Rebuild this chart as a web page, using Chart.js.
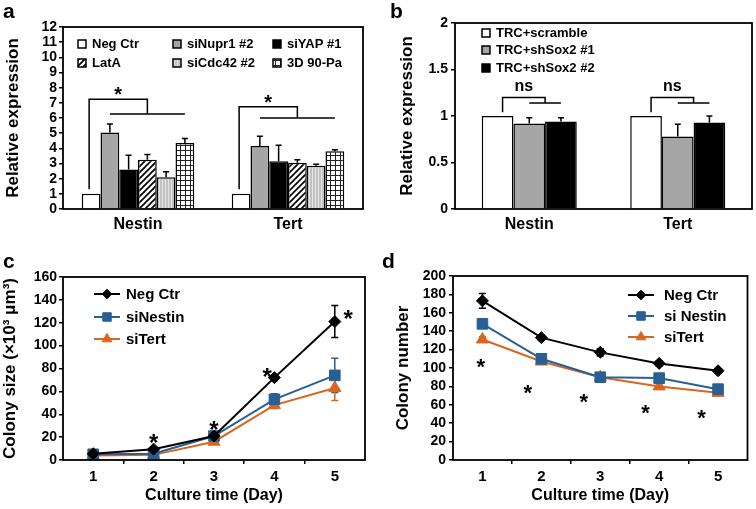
<!DOCTYPE html>
<html>
<head>
<meta charset="utf-8">
<script src="https://cdn.jsdelivr.net/npm/chart.js@4.4.0/dist/chart.umd.min.js"></script>
<style>
  body { margin: 0; background: #fff; }
  #fig { position: relative; width: 756px; height: 509px; overflow: hidden; }
  #fig canvas { position: absolute; }
  .tag { position: absolute; font: bold 21px "Liberation Sans", Arial, sans-serif; line-height: 1; }
</style>
</head>
<body>
<div id="fig">
  <canvas id="chartA" width="378" height="250" style="left:0;top:0"></canvas>
  <canvas id="chartB" width="378" height="250" style="left:378px;top:0"></canvas>
  <canvas id="chartC" width="378" height="259" style="left:0;top:250px"></canvas>
  <canvas id="chartD" width="378" height="259" style="left:378px;top:250px"></canvas>
  <div class="tag" style="left:3px;top:0px">a</div>
  <div class="tag" style="left:390px;top:0px">b</div>
  <div class="tag" style="left:3px;top:250px">c</div>
  <div class="tag" style="left:382px;top:250px">d</div>
</div>
<script>
// ---- data ----
const genes = ['Nestin', 'Tert'];

// panel a
const seriesA = ['Neg Ctr', 'siNupr1 #2', 'siYAP #1', 'LatA', 'siCdc42 #2', '3D 90-Pa'];
const negCtrA = [1, 1];
const siNupr1A = [5.05, 4.15];
const siYapA = [2.6, 3.15];
const latA = [3.25, 3.05];
const siCdc42A = [2.1, 2.85];
const pa90A = [4.35, 3.8];
const negCtrAErr = [0, 0];
const siNupr1AErr = [0.55, 0.65];
const siYapAErr = [0.95, 1.05];
const latAErr = [0.35, 0.2];
const siCdc42AErr = [0.35, 0.1];
const pa90AErr = [0.3, 0.1];

// panel b
const seriesB = ['TRC+scramble', 'TRC+shSox2 #1', 'TRC+shSox2 #2'];
const scrambleB = [1, 1];
const shSox1B = [0.92, 0.78];
const shSox2B = [0.94, 0.93];
const scrambleBErr = [0, 0];
const shSox1BErr = [0.06, 0.13];
const shSox2BErr = [0.04, 0.07];

// panels c, d
const days = [1, 2, 3, 4, 5];
const negCtrC = [5.5, 9.5, 21, 72, 121];
const siNestinC = [5, 5.5, 21, 53, 74];
const siTertC = [4, 4.5, 16, 48, 63];
const negCtrCErr = [1, 1, 1.5, 2.5, 14];
const siNestinCErr = [1, 1, 2, 5, 15];
const siTertCErr = [1, 1, 2, 3, 11];

const negCtrD = [173, 133, 117, 105, 97];
const siNestinD = [148, 110, 90, 89, 77];
const siTertD = [131, 107, 90, 80, 73];
const negCtrDErr = [8, 3, 4, 3, 2];
const siNestinDErr = [3, 3, 3, 3, 3];
const siTertDErr = [3, 3, 3, 3, 3];

// significance marks (data space)
const starCX = [2, 3, 3.88, 5.22];
const starCY = [20, 31.5, 78, 128.5];
const starDX = [0.97, 1.77, 2.72, 3.77, 4.72];
const starDY = [107, 79, 69, 57, 52];

// ---- style helpers ----
const FONT = '"Liberation Sans", Arial, sans-serif';
Chart.defaults.font.family = FONT;
Chart.defaults.font.weight = 'bold';
Chart.defaults.color = '#000';

const BLUE = '#285f94';
const ORANGE = '#d8661f';

function tile(w, h, paint) {
  const c = document.createElement('canvas');
  c.width = w; c.height = h;
  const g = c.getContext('2d');
  paint(g);
  return g.createPattern(c, 'repeat');
}
const diagFill = tile(6, 6, g => {
  g.fillStyle = '#fff'; g.fillRect(0, 0, 6, 6);
  g.strokeStyle = '#000'; g.lineWidth = 1.7;
  g.beginPath();
  g.moveTo(-1, 7); g.lineTo(7, -1);
  g.moveTo(-1, 1); g.lineTo(1, -1);
  g.moveTo(5, 7); g.lineTo(7, 5);
  g.stroke();
});
const stripeFill = tile(3, 1, g => {
  g.fillStyle = '#c2c2c2'; g.fillRect(0, 0, 3, 1);
  g.fillStyle = '#e4e4e4'; g.fillRect(0, 0, 1, 1);
});
const gridFill = tile(5, 5, g => {
  g.fillStyle = '#fff'; g.fillRect(0, 0, 5, 5);
  g.fillStyle = '#222'; g.fillRect(0, 0, 5, 1); g.fillRect(0, 0, 1, 5);
});

// ---- plugins ----
const framePlugin = {
  id: 'frame',
  afterDatasetsDraw(chart) {
    const { ctx, chartArea: a } = chart;
    ctx.save();
    ctx.lineWidth = 1.8;
    ctx.strokeStyle = '#000';
    ctx.strokeRect(a.left, a.top, a.right - a.left, a.bottom - a.top);
    ctx.restore();
  }
};

const errorBarPlugin = {
  id: 'errorBars',
  beforeDatasetsDraw(chart, args, opts) {
    const { ctx } = chart;
    const ys = chart.scales.y;
    ctx.save();
    ctx.strokeStyle = '#000';
    ctx.lineWidth = 1.5;
    chart.data.datasets.forEach((ds, i) => {
      if (!ds.errs) return;
      const meta = chart.getDatasetMeta(i);
      meta.data.forEach((el, j) => {
        const e = ds.errs[j];
        if (!e) return;
        const v = typeof ds.data[j] === 'object' ? ds.data[j].y : ds.data[j];
        const top = ys.getPixelForValue(v + e);
        const bot = opts.both ? ys.getPixelForValue(v - e) : ys.getPixelForValue(v);
        ctx.strokeStyle = ds.errColor || '#000';
        ctx.beginPath();
        ctx.moveTo(el.x, bot); ctx.lineTo(el.x, top);
        ctx.moveTo(el.x - opts.cap / 2, top); ctx.lineTo(el.x + opts.cap / 2, top);
        if (opts.both) { ctx.moveTo(el.x - opts.cap / 2, bot); ctx.lineTo(el.x + opts.cap / 2, bot); }
        ctx.stroke();
      });
    });
    ctx.restore();
  }
};

const bracketPlugin = {
  id: 'brackets',
  afterDatasetsDraw(chart, args, o) {
    const { ctx } = chart;
    const ys = chart.scales.y;
    const n = chart.data.datasets.length;
    const m0 = chart.getDatasetMeta(0), m1 = chart.getDatasetMeta(1), mL = chart.getDatasetMeta(n - 1);
    ctx.save();
    ctx.strokeStyle = '#000';
    ctx.lineWidth = 1.5;
    ctx.fillStyle = '#000';
    ctx.font = 'bold ' + o.size + 'px ' + FONT;
    ctx.textAlign = 'center';
    ctx.textBaseline = 'alphabetic';
    o.top.forEach((t, j) => {
      const x0 = m0.data[j].x + o.dx, x1 = m1.data[j].x, x2 = mL.data[j].x;
      const xm = (x1 + x2) / 2;
      const yt = ys.getPixelForValue(t), yl = ys.getPixelForValue(o.low[j]);
      ctx.beginPath();
      ctx.moveTo(x0, ys.getPixelForValue(o.start[j]));
      ctx.lineTo(x0, yt); ctx.lineTo(xm, yt); ctx.lineTo(xm, yl);
      ctx.moveTo(x1, yl); ctx.lineTo(x2, yl);
      ctx.stroke();
      ctx.fillText(o.label, (x0 + xm) / 2, yt - o.gap);
    });
    ctx.restore();
  }
};

const boxLegendPlugin = {
  id: 'boxLegend',
  afterDraw(chart, args, o) {
    const { ctx, chartArea: a } = chart;
    ctx.save();
    ctx.font = 'bold ' + o.size + 'px ' + FONT;
    ctx.textBaseline = 'middle';
    ctx.textAlign = 'left';
    chart.data.datasets.forEach((ds, i) => {
      const x = a.left + o.colX[i % o.cols];
      const y = a.top + o.rowY[Math.floor(i / o.cols)];
      ctx.fillStyle = ds.backgroundColor;
      ctx.fillRect(x, y - o.box / 2, o.box, o.box);
      ctx.lineWidth = 1.5;
      ctx.strokeStyle = '#000';
      ctx.strokeRect(x, y - o.box / 2, o.box, o.box);
      ctx.fillStyle = '#000';
      ctx.fillText(ds.label, x + o.box + o.gap, y + 0.5);
    });
    ctx.restore();
  }
};

const lineLegendPlugin = {
  id: 'lineLegend',
  afterDraw(chart, args, o) {
    const { ctx, chartArea: a } = chart;
    ctx.save();
    ctx.font = 'bold ' + o.size + 'px ' + FONT;
    ctx.textBaseline = 'middle';
    ctx.textAlign = 'left';
    chart.data.datasets.forEach((ds, i) => {
      const x = a.left + o.x, y = a.top + o.rowY[i];
      ctx.strokeStyle = ds.borderColor;
      ctx.lineWidth = ds.borderWidth;
      ctx.beginPath(); ctx.moveTo(x, y); ctx.lineTo(x + o.len, y); ctx.stroke();
      ctx.fillStyle = ds.pointBackgroundColor;
      ctx.lineWidth = 1;
      Chart.helpers.drawPoint(ctx, { pointStyle: ds.pointStyle, radius: ds.pointRadius * 0.8, rotation: 0, borderWidth: 1 }, x + o.len / 2, y);
      ctx.fillStyle = '#000';
      ctx.fillText(ds.label, x + o.len + o.gap, y + 0.5);
    });
    ctx.restore();
  }
};

const starPlugin = {
  id: 'stars',
  afterDatasetsDraw(chart, args, o) {
    const { ctx } = chart;
    ctx.save();
    ctx.fillStyle = '#000';
    ctx.font = 'bold ' + o.size + 'px ' + FONT;
    ctx.textAlign = 'center';
    ctx.textBaseline = 'alphabetic';
    o.xs.forEach((x, i) => {
      const px = chart.scales.x.getPixelForValue(x);
      const py = chart.scales.y.getPixelForValue(o.ys[i]);
      ctx.fillText('*', px, py + o.size * 0.58);
    });
    ctx.restore();
  }
};

// ---- axis builders ----
function yAxis(min, max, step, title, width, titlePad, labelPad) {
  return {
    min: min, max: max,
    ticks: { stepSize: step, autoSkip: false, maxTicksLimit: 30, color: '#000', font: { size: 14, weight: 'bold' }, padding: labelPad,
      callback: v => String(v) },
    grid: { drawOnChartArea: false, drawTicks: true, tickLength: 4, color: '#000', lineWidth: 1.5 },
    border: { display: false },
    title: { display: true, text: title, color: '#000', font: { size: 17, weight: 'bold' }, padding: { top: titlePad, bottom: 0 } },
    afterFit(s) { s.width = width; }
  };
}
function xCategory(height) {
  return {
    grid: { display: false, drawTicks: false },
    border: { display: false },
    ticks: { color: '#000', font: { size: 16, weight: 'bold' }, padding: 6 },
    afterFit(s) { s.height = height; }
  };
}
function xDays(height) {
  return {
    type: 'linear', min: 0.5, max: 5.5,
    ticks: {
      stepSize: 0.5, autoSkip: false, maxTicksLimit: 30, color: '#000',
      font: { size: 15, weight: 'bold' }, padding: 4,
      callback: v => (v % 1 === 0 ? String(v) : '')
    },
    grid: {
      drawOnChartArea: false, drawTicks: true, tickLength: 4, lineWidth: 1.5,
      color: c => (c.tick && c.tick.value % 1 !== 0 && c.tick.value > 0.5 && c.tick.value < 5.5) ? '#000' : 'rgba(0,0,0,0)'
    },
    border: { display: false },
    title: { display: true, text: 'Culture time (Day)', color: '#000', font: { size: 16, weight: 'bold' }, padding: { top: 0, bottom: 4 } },
    afterFit(s) { s.height = height; }
  };
}

function barSet(label, data, errs, fill) {
  return { label: label, data: data, errs: errs, backgroundColor: fill, borderColor: '#000', borderWidth: 1.5 };
}
function lineSet(label, values, errs, color, style, radius) {
  return {
    label: label, data: days.map((d, i) => ({ x: d, y: values[i] })), errs: errs, errColor: color,
    borderColor: color, borderWidth: 2, backgroundColor: color,
    pointBackgroundColor: color, pointBorderColor: color, pointStyle: style, pointRadius: radius, pointBorderWidth: 1
  };
}

// ---- panel a ----
new Chart(document.getElementById('chartA'), {
  type: 'bar',
  data: {
    labels: genes,
    datasets: [
      barSet(seriesA[0], negCtrA, negCtrAErr, '#ffffff'),
      barSet(seriesA[1], siNupr1A, siNupr1AErr, '#a6a6a6'),
      barSet(seriesA[2], siYapA, siYapAErr, '#000000'),
      barSet(seriesA[3], latA, latAErr, diagFill),
      barSet(seriesA[4], siCdc42A, siCdc42AErr, stripeFill),
      barSet(seriesA[5], pa90A, pa90AErr, gridFill)
    ]
  },
  options: {
    responsive: false, animation: false,
    layout: { padding: { top: 27, right: 15, left: 0, bottom: 0 } },
    datasets: { bar: { categoryPercentage: 0.75, barPercentage: 1 } },
    plugins: {
      legend: { display: false }, tooltip: { enabled: false },
      errorBars: { cap: 6, both: false },
      brackets: { start: [1.3, 1.3], top: [7.23, 6.74], low: [6.26, 6.0], dx: -2, label: '*', size: 20, gap: -2 },
      boxLegend: { cols: 3, colX: [15, 110, 210], rowY: [17, 36], box: 8, gap: 6, size: 13 }
    },
    scales: { x: xCategory(41), y: yAxis(0, 12, 1, 'Relative expression', 63, 3, 2) }
  },
  plugins: [errorBarPlugin, framePlugin, bracketPlugin, boxLegendPlugin]
});

// ---- panel b ----
new Chart(document.getElementById('chartB'), {
  type: 'bar',
  data: {
    labels: genes,
    datasets: [
      barSet(seriesB[0], scrambleB, scrambleBErr, '#ffffff'),
      barSet(seriesB[1], shSox1B, shSox1BErr, '#a6a6a6'),
      barSet(seriesB[2], shSox2B, shSox2BErr, '#000000')
    ]
  },
  options: {
    responsive: false, animation: false,
    layout: { padding: { top: 23, right: 4, left: 0, bottom: 0 } },
    datasets: { bar: { categoryPercentage: 0.64, barPercentage: 1 } },
    plugins: {
      legend: { display: false }, tooltip: { enabled: false },
      errorBars: { cap: 6, both: false },
      brackets: { start: [1.04, 1.04], top: [1.2, 1.2], low: [1.14, 1.14], dx: 5, label: 'ns', size: 16, gap: 6 },
      boxLegend: { cols: 1, colX: [27], rowY: [10, 27, 45], box: 8, gap: 6, size: 13 }
    },
    scales: { x: xCategory(41), y: yAxis(0, 2, 0.5, 'Relative expression', 77, 19, 3) }
  },
  plugins: [errorBarPlugin, framePlugin, bracketPlugin, boxLegendPlugin]
});

// ---- panel c ----
new Chart(document.getElementById('chartC'), {
  type: 'line',
  data: {
    datasets: [
      lineSet('Neg Ctr', negCtrC, negCtrCErr, '#000000', 'rectRot', 6),
      lineSet('siNestin', siNestinC, siNestinCErr, BLUE, 'rect', 7.5),
      lineSet('siTert', siTertC, siTertCErr, ORANGE, 'triangle', 7)
    ]
  },
  options: {
    responsive: false, animation: false,
    layout: { padding: { top: 27, right: 13, left: 0, bottom: 0 } },
    plugins: {
      legend: { display: false }, tooltip: { enabled: false },
      errorBars: { cap: 7, both: true },
      stars: { xs: starCX, ys: starCY, size: 24 },
      lineLegend: { x: 31, len: 26, gap: 6, rowY: [17, 40, 62], size: 15 }
    },
    scales: { x: xDays(49), y: yAxis(0, 160, 20, 'Colony size (×10³ μm³)', 63, 0, 2) }
  },
  plugins: [errorBarPlugin, framePlugin, starPlugin, lineLegendPlugin]
});

// ---- panel d ----
new Chart(document.getElementById('chartD'), {
  type: 'line',
  data: {
    datasets: [
      lineSet('Neg Ctr', negCtrD, negCtrDErr, '#000000', 'rectRot', 6),
      lineSet('si Nestin', siNestinD, siNestinDErr, BLUE, 'rect', 7.5),
      lineSet('siTert', siTertD, siTertDErr, ORANGE, 'triangle', 7)
    ]
  },
  options: {
    responsive: false, animation: false,
    layout: { padding: { top: 26, right: 4, left: 0, bottom: 0 } },
    plugins: {
      legend: { display: false }, tooltip: { enabled: false },
      errorBars: { cap: 7, both: true },
      stars: { xs: starDX, ys: starDY, size: 22 },
      lineLegend: { x: 175, len: 26, gap: 10, rowY: [19, 40, 61], size: 15 }
    },
    scales: { x: xDays(49), y: yAxis(0, 200, 20, 'Colony number', 75, 15, 3) }
  },
  plugins: [errorBarPlugin, framePlugin, starPlugin, lineLegendPlugin]
});
</script>
</body>
</html>
